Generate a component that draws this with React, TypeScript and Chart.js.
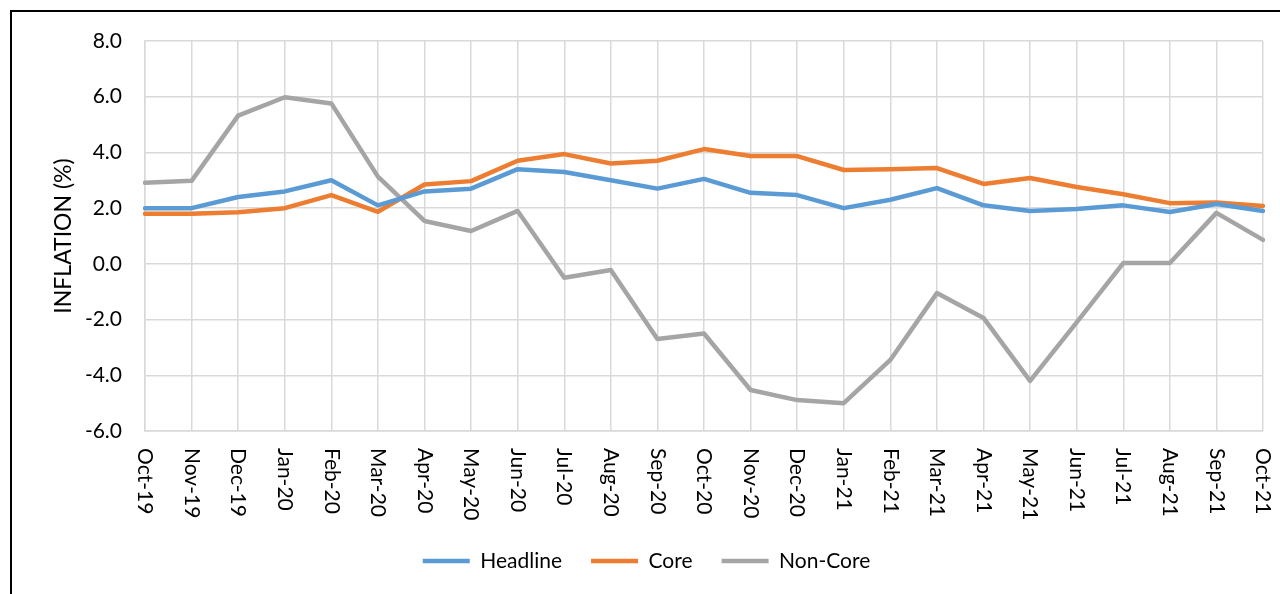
import React, { useEffect, useRef } from 'react';
import { Chart, registerables } from 'chart.js';

Chart.register(...registerables);

const months = [
  'Oct-19', 'Nov-19', 'Dec-19', 'Jan-20', 'Feb-20', 'Mar-20', 'Apr-20', 'May-20', 'Jun-20',
  'Jul-20', 'Aug-20', 'Sep-20', 'Oct-20', 'Nov-20', 'Dec-20', 'Jan-21', 'Feb-21', 'Mar-21',
  'Apr-21', 'May-21', 'Jun-21', 'Jul-21', 'Aug-21', 'Sep-21', 'Oct-21',
];

const headline = [
  2.0, 2.0, 2.4, 2.6, 3.0, 2.1, 2.6, 2.7, 3.4, 3.3, 3.0, 2.7, 3.05,
  2.55, 2.47, 2.0, 2.3, 2.72, 2.1, 1.9, 1.97, 2.1, 1.86, 2.15, 1.9,
];

const core = [
  1.8, 1.8, 1.85, 2.0, 2.47, 1.87, 2.85, 2.97, 3.7, 3.94, 3.6, 3.7, 4.12,
  3.87, 3.87, 3.37, 3.4, 3.44, 2.87, 3.08, 2.76, 2.5, 2.18, 2.2, 2.08,
];

const nonCore = [
  2.91, 2.98, 5.32, 5.98, 5.76, 3.13, 1.54, 1.18, 1.9, -0.5, -0.22, -2.7, -2.5,
  -4.53, -4.89, -5.0, -3.45, -1.05, -1.94, -4.2, -2.1, 0.03, 0.03, 1.83, 0.86,
];

const seriesNames = ['Headline', 'Core', 'Non-Core'];
const yMin = -6;
const yMax = 8;
const yStep = 2;

const FONT = 'Lato';

const xLabelPlugin = {
  id: 'xLabelsRotated',
  afterDraw(chart: any) {
    const { ctx, chartArea } = chart;
    const x = chart.scales.x;
    ctx.save();
    ctx.font = `21px ${FONT}`;
    ctx.fillStyle = '#000';
    ctx.textAlign = 'left';
    ctx.textBaseline = 'middle';
    months.forEach((m, i) => {
      const px = x.getPixelForTick(i);
      ctx.save();
      ctx.translate(px, chartArea.bottom + 17);
      ctx.rotate(Math.PI / 2);
      ctx.fillText(m, 0, 0);
      ctx.restore();
    });
    ctx.restore();
  },
};

export default function App() {
  const ref = useRef<HTMLCanvasElement | null>(null);

  useEffect(() => {
    if (!ref.current) return;
    const mk = (label: string, data: number[], color: string) => ({
      label,
      data,
      borderColor: color,
      backgroundColor: color,
      borderWidth: 4.5,
      borderCapStyle: 'round' as const,
      borderJoinStyle: 'round' as const,
      pointRadius: 0,
      pointHoverRadius: 0,
      tension: 0,
      fill: false,
    });
    const chart = new Chart(ref.current, {
      type: 'line',
      data: {
        labels: months,
        datasets: [
          mk(seriesNames[0], headline, '#5B9BD5'),
          mk(seriesNames[1], core, '#ED7D31'),
          mk(seriesNames[2], nonCore, '#A5A5A5'),
        ],
      },
      options: {
        animation: false,
        responsive: false,
        layout: { padding: { left: 30, right: 17, top: 41, bottom: 12.5 } },
        plugins: {
          tooltip: { enabled: false },
          legend: {
            position: 'bottom',
            labels: {
              font: { family: FONT, size: 21 },
              color: '#000',
              usePointStyle: true,
              pointStyle: 'line',
              pointStyleWidth: 47,
              padding: 29,
            },
          },
        },
        scales: {
          x: {
            grid: { color: '#D9D9D9', lineWidth: 1.5, drawTicks: false },
            border: { color: '#D9D9D9', width: 1.5 },
            ticks: { display: false },
            afterFit: (s: any) => {
              s.height = 90.5;
            },
          },
          y: {
            min: yMin,
            max: yMax,
            grid: { color: '#D9D9D9', lineWidth: 1.5, drawTicks: false },
            border: { color: '#D9D9D9', width: 1.5 },
            ticks: {
              stepSize: yStep,
              padding: 23,
              color: '#000',
              font: { family: FONT, size: 21 },
              callback: (v: any) => Number(v).toFixed(1),
            },
            title: {
              display: true,
              text: 'INFLATION (%)',
              color: '#000',
              font: { family: FONT, size: 23 },
              padding: { top: 20.2, bottom: 0 },
            },
            afterFit: (s: any) => {
              s.width = 115;
            },
          },
        },
      },
      plugins: [xLabelPlugin],
    });
    return () => chart.destroy();
  }, []);

  return (
    <div
      style={{
        position: 'fixed',
        left: 0,
        top: 0,
        width: 1280,
        height: 594,
        overflow: 'hidden',
        background: '#fff',
      }}
    >
      <canvas
        ref={ref}
        width={1280}
        height={594}
        style={{ position: 'absolute', left: 0, top: 0, width: 1280, height: 594 }}
      />
      <div
        style={{
          position: 'absolute',
          left: 10,
          top: 10,
          width: 1400,
          height: 800,
          border: '2px solid #000',
          pointerEvents: 'none',
        }}
      />
    </div>
  );
}
